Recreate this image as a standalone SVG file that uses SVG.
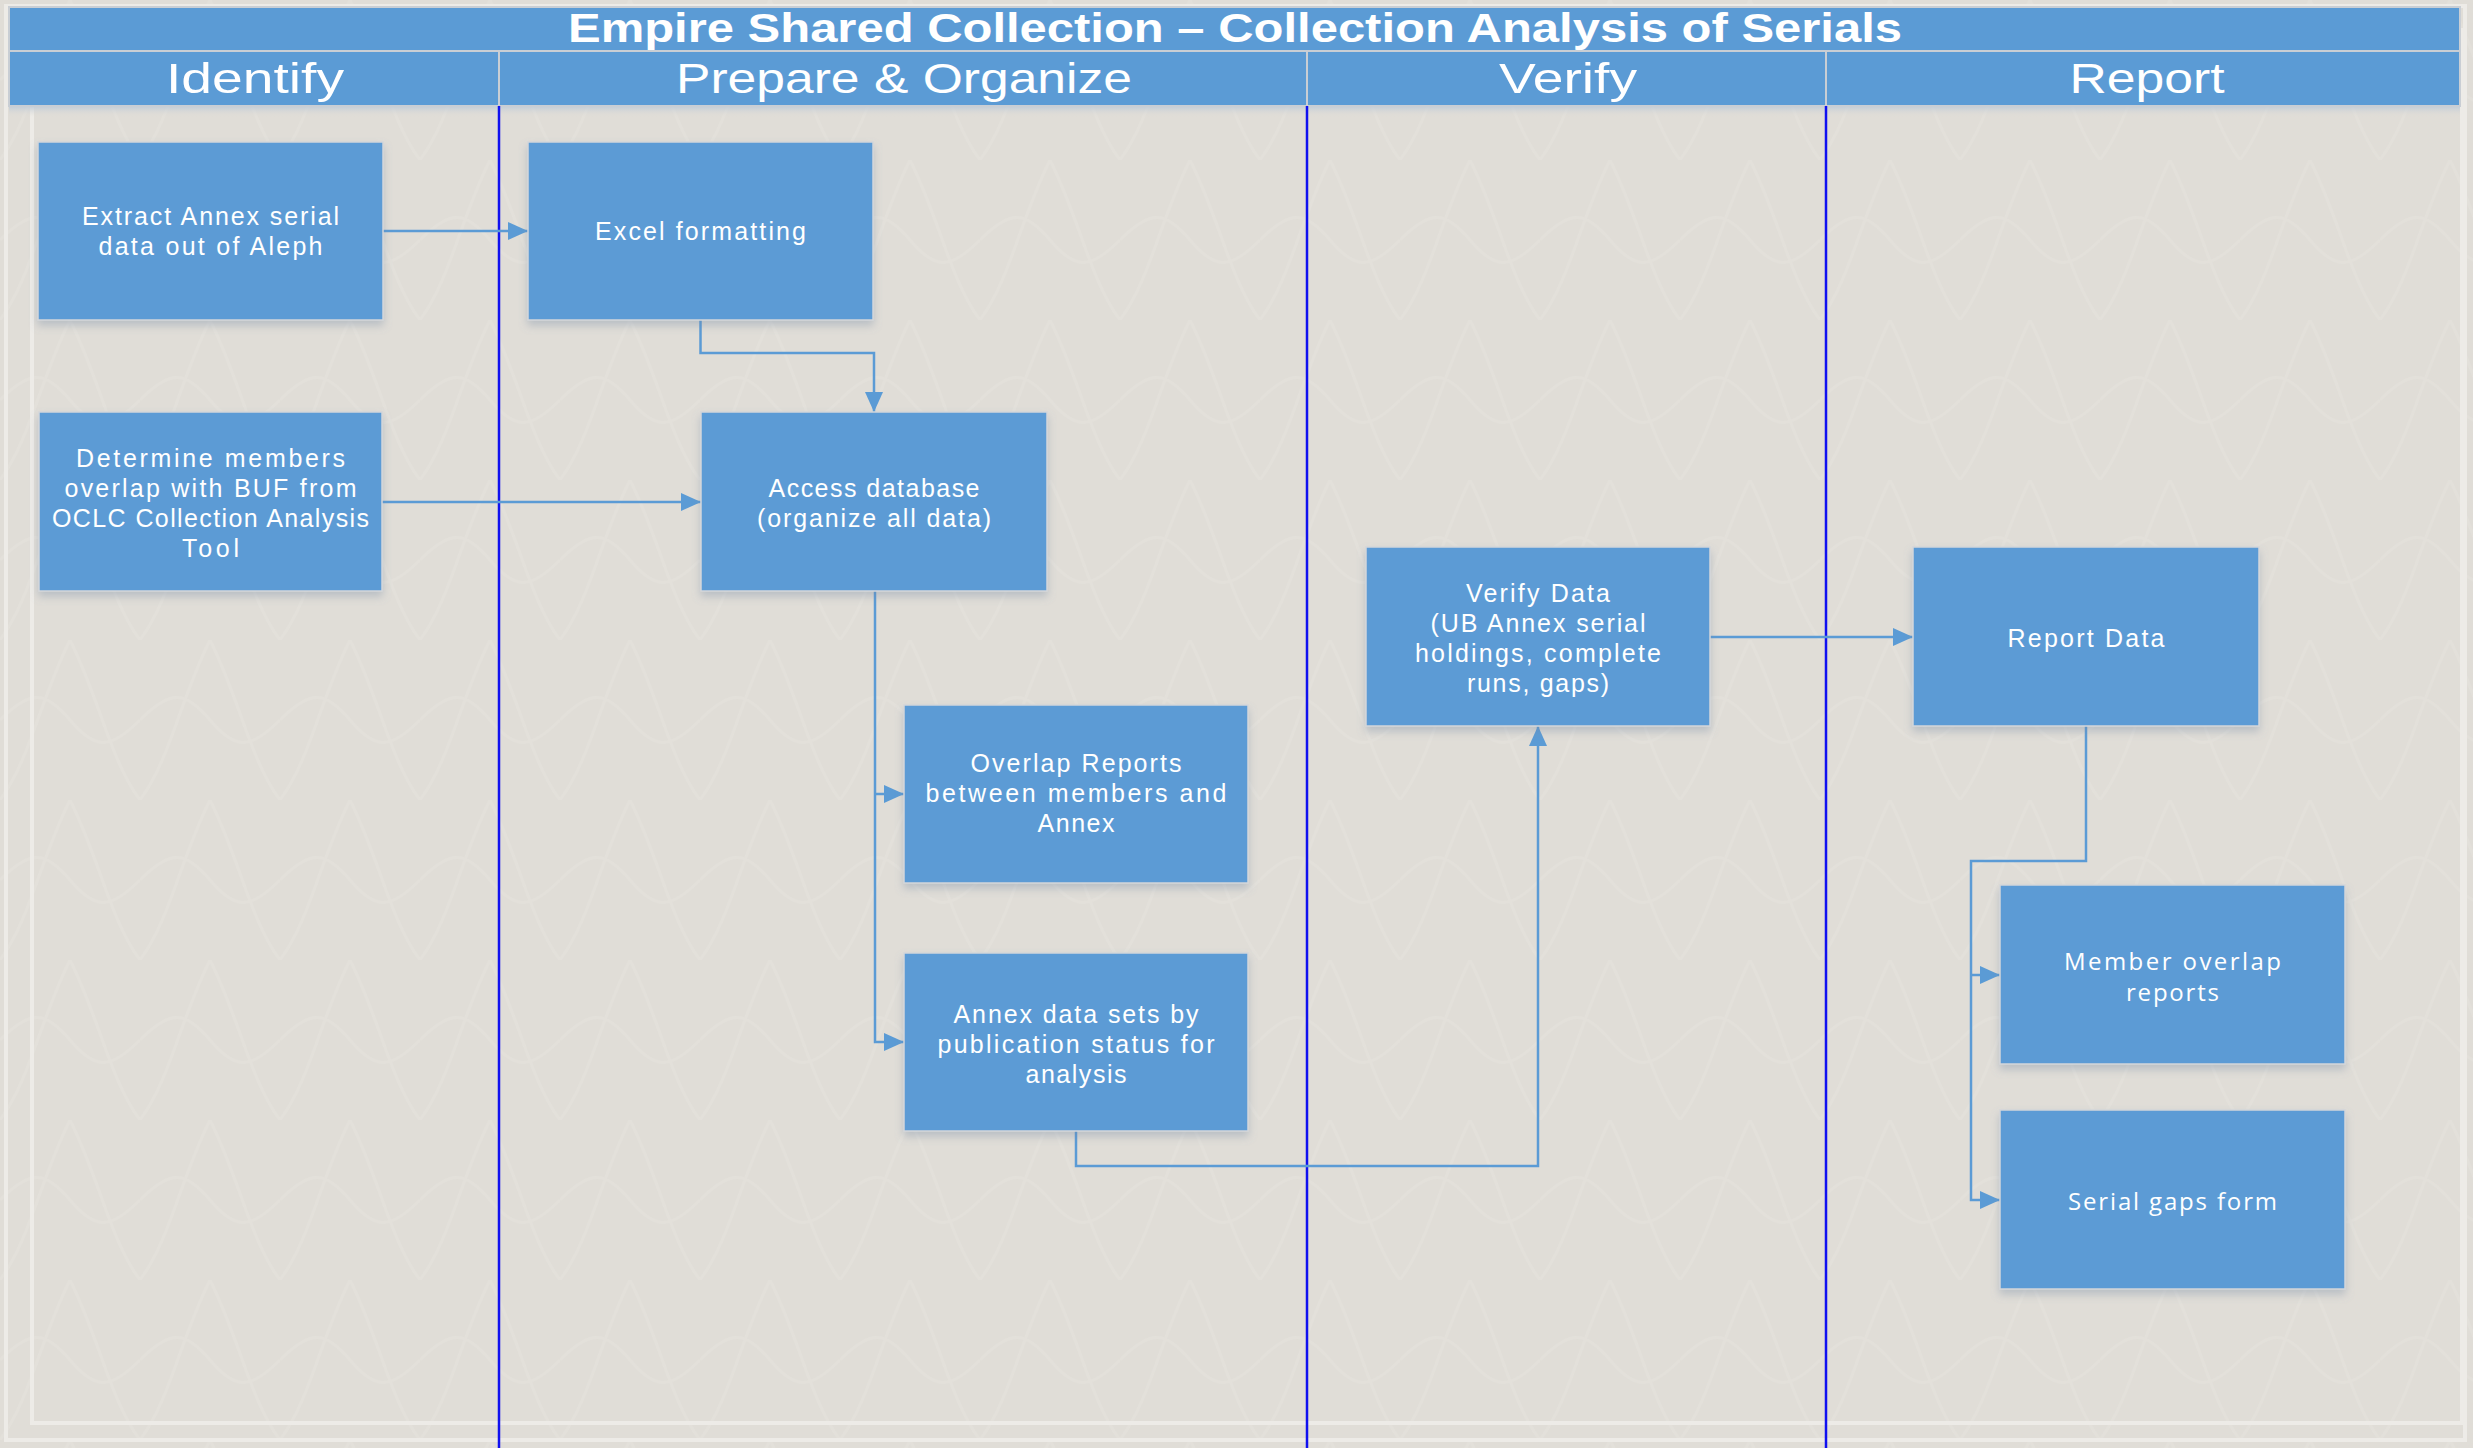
<svg xmlns="http://www.w3.org/2000/svg" width="2473" height="1448" viewBox="0 0 2473 1448">
<style>
.hdr{fill:#FFFFFF;font-family:"Liberation Sans",Arial,sans-serif;font-size:42px;text-anchor:middle}
.ttl{fill:#FFFFFF;font-family:"Liberation Sans",Arial,sans-serif;font-size:40px;font-weight:bold;text-anchor:middle}
.box{fill:#5B9BD5;stroke:#D3D6DA;stroke-width:1.5;filter:url(#sh)}
.lbl{fill:#FFFFFF;font-family:"Liberation Sans",Arial,sans-serif;font-size:25px;text-anchor:middle}
.lbl2{fill:#FFFFFF;font-family:"Open Sans","Liberation Sans",sans-serif;font-size:24px;text-anchor:middle}
.lane{stroke:#1010F0;stroke-width:2.5}
.sep{stroke:#C9CED4;stroke-width:2}
.con{fill:none;stroke:#5B9BD5;stroke-width:2.5;marker-end:url(#arr)}
.frame{fill:none;stroke:#EDEBE7;stroke-width:4}
</style>
<defs>
<marker id="arr" markerUnits="userSpaceOnUse" viewBox="0 0 20 18" markerWidth="20" markerHeight="18" refX="20" refY="9" orient="auto">
<path d="M0,0 L20,9 L0,18 z" fill="#5B9BD5"/>
</marker>
<filter id="sh" x="-10%" y="-10%" width="120%" height="130%">
<feDropShadow dx="0" dy="5" stdDeviation="4" flood-color="#6F86A3" flood-opacity="0.35"/>
</filter>
<pattern id="tex" width="140" height="160" patternUnits="userSpaceOnUse">
<path d="M0,160 C30,120 40,60 70,0 M140,160 C110,120 100,60 70,0 M0,80 C30,50 45,50 70,80 C95,110 110,110 140,80" fill="none" stroke="#F0EEEA" stroke-width="3" opacity="0.18"/>
</pattern>
<linearGradient id="hsh" x1="0" y1="0" x2="0" y2="1">
<stop offset="0" stop-color="#BFCBD8" stop-opacity="0.8"/>
<stop offset="1" stop-color="#DFDCD6" stop-opacity="0"/>
</linearGradient>
</defs>

<g id="background">
<rect x="0" y="0" width="2473" height="1448" fill="#E0DDD7"/>
<rect x="0" y="0" width="2473" height="1448" fill="url(#tex)"/>
<rect class="frame" x="6" y="6" width="2459" height="1434"/>
<rect class="frame" x="32" y="30" width="2430" height="1393"/>
</g>

<g id="header">
<rect x="9" y="7" width="2451" height="99" fill="#5B9BD5" stroke="#C9CED4" stroke-width="2"/>
<line class="sep" x1="9" y1="51" x2="2460" y2="51" stroke-width="3"/>
<line class="sep" x1="499" y1="51" x2="499" y2="106"/>
<line class="sep" x1="1307" y1="51" x2="1307" y2="106"/>
<line class="sep" x1="1826" y1="51" x2="1826" y2="106"/>
<rect x="9" y="107" width="2451" height="10" fill="url(#hsh)"/>
<text class="ttl" x="1235" y="42" textLength="1334" lengthAdjust="spacingAndGlyphs">Empire Shared Collection – Collection Analysis of Serials</text>
<text class="hdr" x="255" y="93" textLength="178" lengthAdjust="spacingAndGlyphs">Identify</text>
<text class="hdr" x="904" y="93" textLength="456" lengthAdjust="spacingAndGlyphs">Prepare &amp; Organize</text>
<text class="hdr" x="1568" y="93" textLength="138" lengthAdjust="spacingAndGlyphs">Verify</text>
<text class="hdr" x="2147" y="93" textLength="155" lengthAdjust="spacingAndGlyphs">Report</text>
</g>

<g id="lanes">
<line class="lane" x1="499" y1="106" x2="499" y2="1448"/>
<line class="lane" x1="1307" y1="106" x2="1307" y2="1448"/>
<line class="lane" x1="1826" y1="106" x2="1826" y2="1448"/>
</g>

<g id="connectors">
<path class="con" d="M383,231 H528"/>
<path class="con" d="M700.5,320 V353 H874 V412"/>
<path class="con" d="M382,502 H701"/>
<path class="con" d="M875,591 V1042 H904"/>
<path class="con" d="M875,794 H904"/>
<path class="con" d="M1076,1131 V1166 H1538 V726"/>
<path class="con" d="M1710,637 H1913"/>
<path class="con" d="M2086,726 V861 H1971 V1200 H2000"/>
<path class="con" d="M1971,975 H2000"/>
</g>

<g id="n1">
<rect class="box" x="38" y="142" width="345" height="178"/>
<text class="lbl" x="210.5" y="225" textLength="257" lengthAdjust="spacing">Extract Annex serial</text>
<text class="lbl" x="210.5" y="255" textLength="224" lengthAdjust="spacing">data out of Aleph</text>
</g>
<g id="n2">
<rect class="box" x="528" y="142" width="345" height="178"/>
<text class="lbl" x="700.5" y="240" textLength="211" lengthAdjust="spacing">Excel formatting</text>
</g>
<g id="n3">
<rect class="box" x="39" y="412" width="343" height="179"/>
<text class="lbl" x="210.5" y="467" textLength="269" lengthAdjust="spacing">Determine members</text>
<text class="lbl" x="210.5" y="497" textLength="292" lengthAdjust="spacing">overlap with BUF from</text>
<text class="lbl" x="210.5" y="527" textLength="317" lengthAdjust="spacing">OCLC Collection Analysis</text>
<text class="lbl" x="210.5" y="557" textLength="57" lengthAdjust="spacing">Tool</text>
</g>
<g id="n4">
<rect class="box" x="701" y="412" width="346" height="179"/>
<text class="lbl" x="874" y="497" textLength="211" lengthAdjust="spacing">Access database</text>
<text class="lbl" x="874" y="527" textLength="234" lengthAdjust="spacing">(organize all data)</text>
</g>
<g id="n5">
<rect class="box" x="904" y="705" width="344" height="178"/>
<text class="lbl" x="1076" y="772" textLength="211" lengthAdjust="spacing">Overlap Reports</text>
<text class="lbl" x="1076" y="802" textLength="301" lengthAdjust="spacing">between members and</text>
<text class="lbl" x="1076" y="832" textLength="77" lengthAdjust="spacing">Annex</text>
</g>
<g id="n6">
<rect class="box" x="904" y="953" width="344" height="178"/>
<text class="lbl" x="1076" y="1023" textLength="245" lengthAdjust="spacing">Annex data sets by</text>
<text class="lbl" x="1076" y="1053" textLength="277" lengthAdjust="spacing">publication status for</text>
<text class="lbl" x="1076" y="1083" textLength="101" lengthAdjust="spacing">analysis</text>
</g>
<g id="n7">
<rect class="box" x="1366" y="547" width="344" height="179"/>
<text class="lbl" x="1538" y="602" textLength="144" lengthAdjust="spacing">Verify Data</text>
<text class="lbl" x="1538" y="632" textLength="215" lengthAdjust="spacing">(UB Annex serial</text>
<text class="lbl" x="1538" y="662" textLength="246" lengthAdjust="spacing">holdings, complete</text>
<text class="lbl" x="1538" y="692" textLength="142" lengthAdjust="spacing">runs, gaps)</text>
</g>
<g id="n8">
<rect class="box" x="1913" y="547" width="346" height="179"/>
<text class="lbl" x="2086" y="647" textLength="157" lengthAdjust="spacing">Report Data</text>
</g>
<g id="n9">
<rect class="box" x="2000" y="885" width="345" height="179"/>
<text class="lbl2" x="2172.5" y="970" textLength="217" lengthAdjust="spacing">Member overlap</text>
<text class="lbl2" x="2172.5" y="1001" textLength="93" lengthAdjust="spacing">reports</text>
</g>
<g id="n10">
<rect class="box" x="2000" y="1110" width="345" height="179"/>
<text class="lbl2" x="2172.5" y="1210" textLength="209" lengthAdjust="spacing">Serial gaps form</text>
</g>
</svg>
